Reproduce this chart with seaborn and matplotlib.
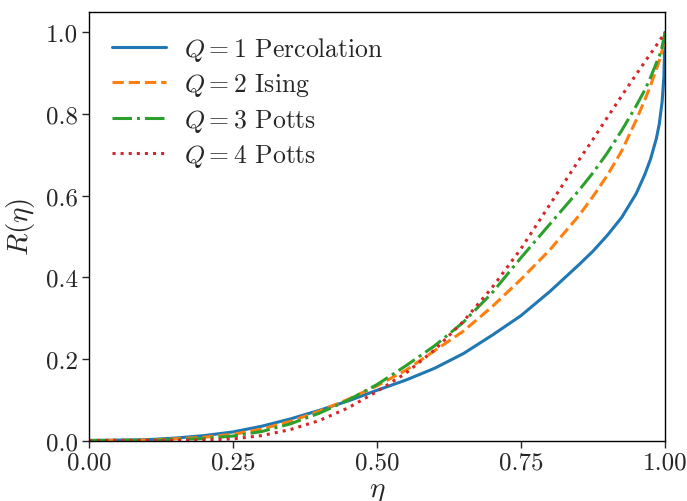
import numpy as np
import pandas as pd
import matplotlib
matplotlib.use("Agg")
import matplotlib.pyplot as plt
import seaborn as sns

eta = [0.0, 0.1, 0.15, 0.2, 0.25, 0.3, 0.35, 0.4, 0.45, 0.5, 0.55, 0.6, 0.65,
       0.7, 0.75, 0.8, 0.85, 0.875, 0.9, 0.925, 0.95, 0.965, 0.975, 0.985,
       0.99, 0.995, 0.998, 1.0]

r_q1 = [0.0, 0.002, 0.006, 0.012, 0.021, 0.035, 0.053, 0.074, 0.097, 0.123,
        0.148, 0.177, 0.213, 0.258, 0.306, 0.365, 0.430, 0.464, 0.503, 0.547,
        0.605, 0.652, 0.690, 0.740, 0.775, 0.830, 0.890, 1.0]
r_q2 = [0.0, 0.001, 0.004, 0.008, 0.015, 0.028, 0.047, 0.072, 0.101, 0.134,
        0.172, 0.220, 0.268, 0.328, 0.395, 0.467, 0.550, 0.598, 0.650, 0.710,
        0.785, 0.835, 0.870, 0.910, 0.930, 0.955, 0.975, 1.0]
r_q3 = [0.0, 0.0005, 0.002, 0.005, 0.011, 0.022, 0.041, 0.067, 0.099, 0.137,
        0.183, 0.232, 0.290, 0.362, 0.448, 0.530, 0.612, 0.656, 0.705, 0.760,
        0.820, 0.859, 0.890, 0.925, 0.942, 0.965, 0.985, 1.0]
r_q4 = [0.0, 0.0, 0.0003, 0.001, 0.004, 0.012, 0.027, 0.049, 0.080, 0.120,
        0.165, 0.222, 0.292, 0.375, 0.470, 0.578, 0.686, 0.738, 0.792, 0.845,
        0.897, 0.928, 0.948, 0.968, 0.979, 0.989, 0.995, 1.0]

labels = [r"$Q=1$ Percolation", r"$Q=2$ Ising", r"$Q=3$ Potts", r"$Q=4$ Potts"]
series = [r_q1, r_q2, r_q3, r_q4]
styles = ["-", "--", "-.", ":"]
colors = ["#1f77b4", "#ff7f0e", "#2ca02c", "#d62728"]

xticks = [0.0, 0.25, 0.5, 0.75, 1.0]
yticks = [0.0, 0.2, 0.4, 0.6, 0.8, 1.0]

sns.set_style("ticks")
plt.rcParams["font.family"] = "serif"
plt.rcParams["font.serif"] = ["cmr10", "DejaVu Serif"]
plt.rcParams["mathtext.fontset"] = "cm"
plt.rcParams["axes.unicode_minus"] = False
plt.rcParams["axes.formatter.use_mathtext"] = True

fig = plt.figure(figsize=(6.87, 5.02), dpi=100)
ax = fig.add_axes([89 / 687, 1 - 441.5 / 502, (665 - 89) / 687, (441.5 - 13) / 502])

for lab, vals, ls, c in zip(labels, series, styles, colors):
    df = pd.DataFrame({"eta": eta, "R": vals})
    sns.lineplot(data=df, x="eta", y="R", ax=ax, label=lab, color=c,
                 linestyle=ls, linewidth=2.2)

ax.set_xlim(0, 1)
ax.set_ylim(0, 1.05)
ax.set_xticks(xticks)
ax.set_xticklabels([f"{t:.2f}" for t in xticks])
ax.set_yticks(yticks)
ax.set_yticklabels([f"{t:.1f}" for t in yticks])
ax.tick_params(labelsize=18, length=5, width=1, direction="out", pad=3)
ax.set_xlabel(r"$\eta$", fontsize=21, labelpad=3)
ax.set_ylabel(r"$R(\eta)$", fontsize=21, labelpad=6)
for s in ax.spines.values():
    s.set_visible(True)
    s.set_linewidth(1.0)
    s.set_color("black")

leg = ax.legend(loc="upper left", frameon=False, fontsize=18.5, handlelength=2.1,
                handletextpad=0.7, borderaxespad=0.5, labelspacing=0.32)

fig.savefig("out.png", dpi=100)
